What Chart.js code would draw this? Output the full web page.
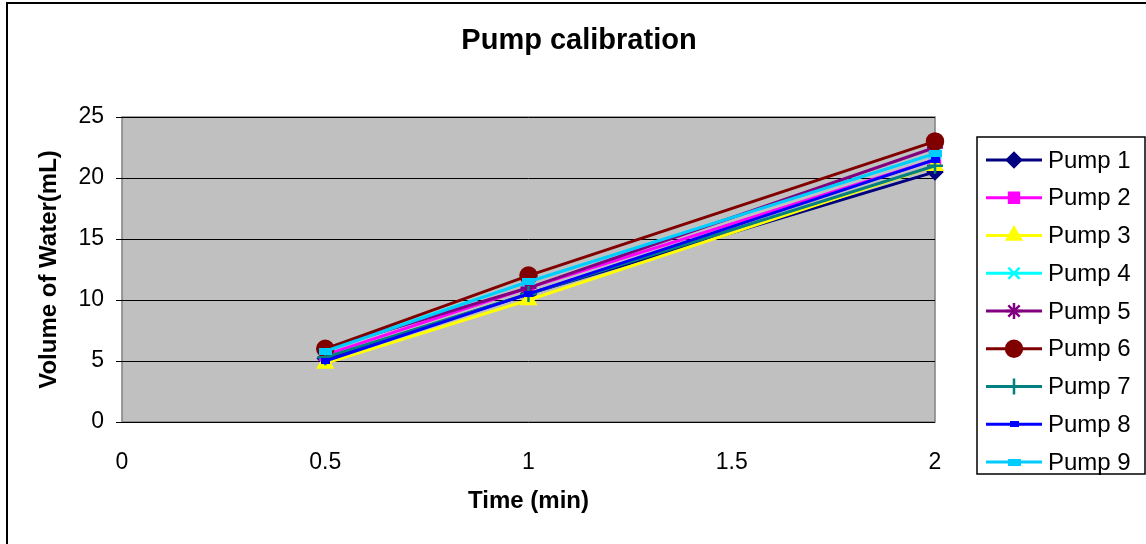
<!DOCTYPE html>
<html>
<head>
<meta charset="utf-8">
<title>Pump calibration</title>
<script src="https://cdn.jsdelivr.net/npm/chart.js@4"></script>
<style>
html, body { margin: 0; padding: 0; background: #fff; }
#wrap { position: relative; width: 1146px; height: 544px; }
#frame {
  position: absolute; left: 6px; top: 2px; right: -4px; bottom: -4px;
  border-left: 2px solid #000; border-top: 2px solid #000;
}
canvas { position: absolute; left: 0; top: 0; }
</style>
</head>
<body>
<div id="wrap">
<div id="frame"></div>
<canvas id="pumpChart" width="1146" height="544"></canvas>
</div>
<script>
// Time points (min) and measured volumes (mL) per pump
const times = [0.5, 1, 2];
const pump1 = [5.2, 10.5, 20.5];
const pump2 = [5.5, 11.0, 21.5];
const pump3 = [4.8, 10.0, 21.0];
const pump4 = [5.9, 11.5, 22.0];
const pump5 = [6.0, 11.0, 22.5];
const pump6 = [6.0, 12.0, 23.0];
const pump7 = [5.3, 10.5, 21.0];
const pump8 = [5.0, 10.5, 21.5];
const pump9 = [5.8, 11.5, 22.0];

const pumpNames = ["Pump 1", "Pump 2", "Pump 3", "Pump 4", "Pump 5", "Pump 6", "Pump 7", "Pump 8", "Pump 9"];
const pumpValues = [pump1, pump2, pump3, pump4, pump5, pump6, pump7, pump8, pump9];
const yTicks = [0, 5, 10, 15, 20, 25];
const xTicks = [0, 0.5, 1, 1.5, 2];

const FONT = "'Liberation Sans', Arial, sans-serif";

// small dash markers for pumps 8 and 9
function dashMarker(color, w, h) {
  const c = document.createElement("canvas");
  c.width = w; c.height = h;
  const g = c.getContext("2d");
  g.fillStyle = color;
  g.fillRect(0, 0, w, h);
  return c;
}

const styles = [
  { color: "#000080", point: "rectRot", radius: 7 },
  { color: "#FF00FF", point: "rect", radius: 7 },
  { color: "#FFFF00", point: "triangle", radius: 8 },
  { color: "#00FFFF", point: "crossRot", radius: 8 },
  { color: "#800080", point: "star", radius: 8 },
  { color: "#800000", point: "circle", radius: 8 },
  { color: "#008080", point: "cross", radius: 8 },
  { color: "#0000FF", point: dashMarker("#0000FF", 9, 6), radius: 5 },
  { color: "#00CCFF", point: dashMarker("#00CCFF", 13, 7), radius: 7 }
];

// later pumps are drawn over earlier ones
const datasets = pumpNames.map((name, i) => ({
  label: name,
  data: times.map((t, j) => ({ x: t, y: pumpValues[i][j] })),
  order: pumpNames.length - i,
  showLine: true,
  clip: false,
  borderColor: styles[i].color,
  backgroundColor: styles[i].color,
  borderWidth: 3,
  pointStyle: styles[i].point,
  pointRadius: styles[i].radius,
  pointBorderWidth: 2.5,
  pointBorderColor: styles[i].color,
  pointBackgroundColor: styles[i].color,
  tension: 0
}));

// title, plot background and boxed legend
const decor = {
  id: "decor",
  beforeDraw(chart) {
    const { ctx, chartArea: a } = chart;
    ctx.save();
    ctx.fillStyle = "#C0C0C0";
    ctx.fillRect(a.left, a.top, a.right - a.left, a.bottom - a.top);
    ctx.strokeStyle = "#808080";
    ctx.lineWidth = 1.5;
    ctx.strokeRect(a.left, a.top, a.right - a.left, a.bottom - a.top);
    ctx.restore();
  },
  afterDraw(chart) {
    const { ctx } = chart;
    ctx.save();
    ctx.fillStyle = "#000";
    ctx.font = "bold 29px " + FONT;
    ctx.textAlign = "center";
    ctx.textBaseline = "middle";
    ctx.fillText("Pump calibration", 579, 41);

    // legend
    const lx = 977, ly = 137, lw = 168, lh = 337;
    ctx.fillStyle = "#fff";
    ctx.fillRect(lx, ly, lw, lh);
    ctx.strokeStyle = "#000";
    ctx.lineWidth = 1.5;
    ctx.strokeRect(lx, ly, lw, lh);
    ctx.font = "24px " + FONT;
    ctx.textAlign = "left";
    pumpNames.forEach((name, i) => {
      const y = 160 + i * 37.75;
      ctx.strokeStyle = styles[i].color;
      ctx.lineWidth = 3;
      ctx.beginPath();
      ctx.moveTo(986, y);
      ctx.lineTo(1042, y);
      ctx.stroke();
      ctx.fillStyle = styles[i].color;
      ctx.lineWidth = 2.5;
      Chart.helpers.drawPoint(ctx, {
        pointStyle: styles[i].point,
        radius: styles[i].radius,
        rotation: 0,
        borderWidth: 2.5
      }, 1014, y);
      ctx.fillStyle = "#000";
      ctx.fillText(name, 1048, y + 1);
    });
    ctx.restore();
  }
};

const tickFont = { family: FONT, size: 23 };
const titleFont = { family: FONT, size: 24, weight: "bold" };

new Chart(document.getElementById("pumpChart").getContext("2d"), {
  type: "scatter",
  data: { datasets },
  options: {
    responsive: false,
    animation: false,
    layout: { padding: { left: 35, right: 211, top: 117, bottom: 28 } },
    plugins: { legend: { display: false }, title: { display: false }, tooltip: { enabled: false } },
    scales: {
      x: {
        type: "linear",
        min: 0, max: 2,
        afterBuildTicks: (s) => { s.ticks = xTicks.map(v => ({ value: v })); },
        afterFit: (s) => { s.height = 94; },
        grid: { display: false },
        border: { display: false },
        ticks: { color: "#000", font: tickFont, padding: 19, maxRotation: 0, callback: (v) => String(v) },
        title: { display: true, text: "Time (min)", color: "#000", font: titleFont, padding: 0 }
      },
      y: {
        type: "linear",
        min: 0, max: 25,
        afterBuildTicks: (s) => { s.ticks = yTicks.map(v => ({ value: v })); },
        afterFit: (s) => { s.width = 87; },
        grid: { color: "#000", lineWidth: 1, tickLength: 6, tickColor: "#000" },
        border: { display: false },
        ticks: { color: "#000", font: tickFont, padding: 12 },
        title: { display: true, text: "Volume of Water(mL)", color: "#000", font: titleFont, padding: 0 }
      }
    }
  },
  plugins: [decor]
});
</script>
</body>
</html>
